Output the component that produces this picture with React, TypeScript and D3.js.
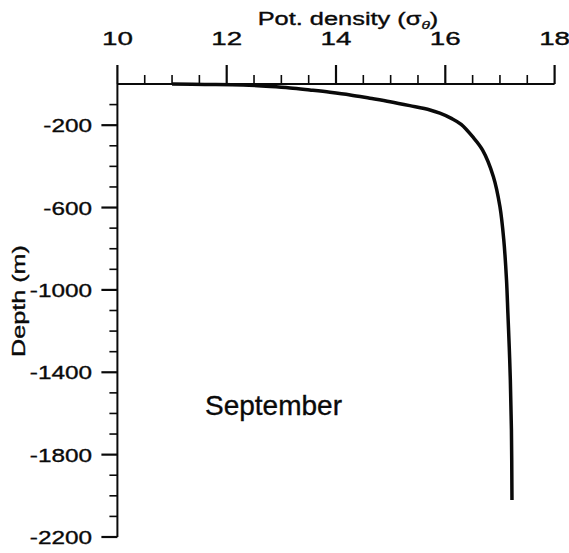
import React from "react";
import * as d3 from "d3";

// Potential density profile (σθ) against depth, September
const depth = [0, 2, 5, 12, 19, 29, 40, 53, 69, 86, 105, 126, 142, 168, 196, 256, 320, 450, 596, 757, 951, 1112, 1277, 1437, 1680, 2020];
const sigma = [11.0, 11.6, 12.3, 12.8, 13.16, 13.52, 13.89, 14.26, 14.62, 14.99, 15.35, 15.72, 15.9, 16.12, 16.29, 16.5, 16.68, 16.88, 17.0, 17.07, 17.12, 17.145, 17.17, 17.19, 17.21, 17.22];

const xTickLabels = [10, 12, 14, 16, 18];
const yTickLabels = [-200, -600, -1000, -1400, -1800, -2200];

const W = 569;
const H = 553;
const FONT = "'Liberation Sans', Arial, Helvetica, sans-serif";
const INK = "#0a0a0a";

export default function App() {
  const x = d3.scaleLinear().domain([10, 18]).range([117.4, 554.6]);
  const y = d3.scaleLinear().domain([0, -2200]).range([84, 537]);

  const xMinor = d3.range(10, 18.001, 0.5);
  const yMinor = d3.range(-100, -2200.001, -100);

  const pts = depth.map((d, i) => ({ d: -d, s: sigma[i] }));
  const line = d3
    .line<{ d: number; s: number }>()
    .x((p) => x(p.s))
    .y((p) => y(p.d))
    .curve(d3.curveCatmullRom.alpha(0.5));

  const x0 = x(10);
  const y0 = y(0);
  const textInk = { fill: INK, stroke: INK, strokeWidth: 0.35 };

  return (
    <svg
      width={W}
      height={H}
      style={{ position: "absolute", left: 0, top: 0, background: "#fff" }}
      fontFamily={FONT}
    >
      <rect width={W} height={H} fill="#fff" />

      {/* top axis */}
      <line x1={x0} x2={x(18)} y1={y0} y2={y0} stroke={INK} strokeWidth={2} />
      {xMinor.map((v) => {
        const major = xTickLabels.includes(v);
        return (
          <line
            key={"xt" + v}
            x1={x(v)}
            x2={x(v)}
            y1={y0}
            y2={y0 - (major ? 19 : 9)}
            stroke={INK}
            strokeWidth={major ? 2.2 : 1.6}
          />
        );
      })}
      {xTickLabels.map((v) => (
        <text
          key={"xl" + v}
          transform={`translate(${x(v)},45) scale(1.5,1)`}
          textAnchor="middle"
          fontSize={18.5}
          {...textInk}
        >
          {v}
        </text>
      ))}
      <text
        transform={`translate(348,25) scale(1.41,1)`}
        textAnchor="middle"
        fontSize={18}
        {...textInk}
      >
        <tspan>Pot. density (σ</tspan>
        <tspan fontSize={11} dy={4} fontStyle="italic">θ</tspan>
        <tspan dy={-4}>)</tspan>
      </text>

      {/* left axis */}
      <line x1={x0} x2={x0} y1={y0} y2={y(-2200)} stroke={INK} strokeWidth={2} />
      {yMinor.map((v) => {
        const major = yTickLabels.includes(Math.round(v));
        return (
          <line
            key={"yt" + v}
            x1={x0}
            x2={x0 - (major ? 16 : 8)}
            y1={y(v)}
            y2={y(v)}
            stroke={INK}
            strokeWidth={major ? 2.2 : 1.6}
          />
        );
      })}
      {yTickLabels.map((v) => (
        <text
          key={"yl" + v}
          transform={`translate(92,${y(v) + 7}) scale(1.28,1)`}
          textAnchor="end"
          fontSize={19}
          {...textInk}
        >
          {v}
        </text>
      ))}
      <text
        transform={`translate(25,301) rotate(-90) scale(1.4,1)`}
        textAnchor="middle"
        fontSize={18}
        {...textInk}
      >
        Depth (m)
      </text>

      {/* profile */}
      <path d={line(pts) ?? ""} fill="none" stroke={INK} strokeWidth={3.5} strokeLinejoin="round" />

      <text x={205} y={415} fontSize={28} {...textInk}>
        September
      </text>
    </svg>
  );
}
